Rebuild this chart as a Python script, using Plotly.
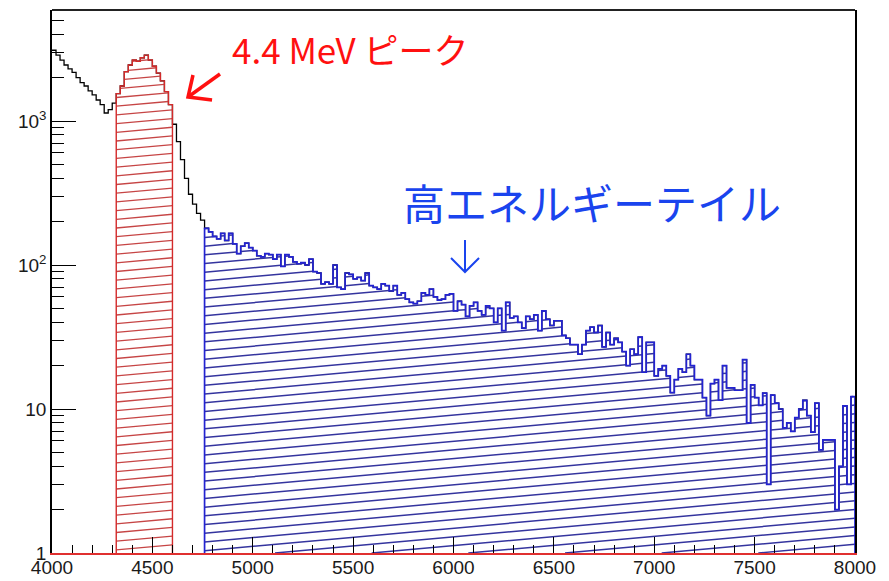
import numpy as np
import plotly.graph_objects as go

# ---- spectrum (counts per 20 keV bin) ----
BIN = 20
X_MIN, X_MAX = 4000, 8000

low_start = 4000
low_counts = [3100, 2870, 2650, 2450, 2300, 2180, 2000, 1850,
              1750, 1620, 1517, 1400, 1300, 1137, 1200, 1330]

peak_start = 4320
peak_counts = [1550, 1750, 2200, 2450, 2650, 2600, 2750, 2870,
               2650, 2400, 2150, 1900, 1600, 1300]

gap_start = 4600
gap_counts = [950, 720, 540, 400, 310, 265, 228, 205]

tail_start = 4760
tail_counts = [
    180, 170, 158, 152, 166,
    148, 166, 140, 120, 135,
    142, 132, 126, 116, 114,
    120, 118, 110, 118, 98,
    118, 114, 105, 102, 104,
    100, 110, 90, 88, 74,
    76, 74, 100, 70, 68,
    88, 86, 80, 82, 78,
    88, 72, 70, 68, 74,
    72, 66, 72, 62, 64,
    58, 55, 54, 56, 64,
    62, 68, 60, 57, 58,
    62, 63, 48, 56, 53,
    44, 52, 55, 48, 45,
    52, 50, 40, 50, 35,
    55, 43, 44, 40, 36.5,
    44, 42, 45, 35, 48,
    42, 38, 41, 41, 32.5,
    31, 28, 28, 24, 28,
    35, 37, 34, 38, 27,
    34, 28, 31, 29, 25,
    20, 26, 24, 31.6, 18,
    29, 29, 17, 19, 20,
    17, 13, 16, 19, 18,
    24, 20, 16, 16, 12,
    9, 15, 16, 11.5, 20,
    14, 14, 13.5, 13.5, 22,
    8, 14.7, 12, 10.6, 12.9,
    3, 12.5, 11, 10, 7.4,
    8, 7, 8.7, 10, 11.5,
    9, 6.9, 11, 5.2, 6.1,
    6.1, 6.1, 2, 4, 10.5,
    3, 12.2,
]

x_tick_vals = list(range(4000, 8001, 500))
y_tick_vals = [1, 10, 100, 1000]
y_tick_text = ["1", "10", "10<sup>2</sup>", "10<sup>3</sup>"]

peak_label = "4.4 MeV ピーク"
tail_label = "高エネルギーテイル"

# ---- figure geometry ----
FIG_W, FIG_H = 889, 581
M_L, M_R, M_T, M_B = 52, 34, 10, 28
PW, PH = FIG_W - M_L - M_R, FIG_H - M_T - M_B
LOG_MAX = 3.771

RED = "#d42a2a"
RED_HATCH = "#c64545"
BLUE = "#2323d2"
BLUE_HATCH = "#34349e"


def edges_of(start, counts):
    return start + BIN * np.arange(len(counts) + 1)


def step_outline(start, counts, closed=True):
    e = edges_of(start, counts)
    xs, ys = ([e[0]], [1]) if closed else ([], [])
    for i, c in enumerate(counts):
        xs += [e[i], e[i + 1]]
        ys += [c, c]
    if closed:
        xs.append(e[-1])
        ys.append(1)
    return xs, ys


def hatch_lines(start, counts, slope=0.09, spacing=8.7):
    """Slanted hatch lines (pixel-space slope) clipped to the histogram."""
    e = edges_of(start, counts)
    px = (e - X_MIN) / (X_MAX - X_MIN) * PW
    tops = np.log10(np.asarray(counts, float)) / LOG_MAX * PH
    xs, ys = [], []
    c = -slope * PW - spacing
    while c < PH:
        segs = []
        for i in range(len(counts)):
            lo = max(px[i], -c / slope)
            hi = min(px[i + 1], (tops[i] - c) / slope)
            if hi > lo:
                if segs and abs(segs[-1][1] - lo) < 1e-9:
                    segs[-1][1] = hi
                else:
                    segs.append([lo, hi])
        for lo, hi in segs:
            for p in (lo, hi):
                xs.append(X_MIN + p / PW * (X_MAX - X_MIN))
                ys.append(10 ** ((c + slope * p) / PH * LOG_MAX))
            xs.append(None)
            ys.append(None)
        c += spacing
    return xs, ys


fig = go.Figure()

# full spectrum (black line)
all_counts = low_counts + peak_counts + gap_counts + tail_counts
bx, by = step_outline(low_start, all_counts, closed=False)
fig.add_trace(go.Scatter(x=bx, y=by, mode="lines",
                         line=dict(color="black", width=1.3),
                         hoverinfo="skip", showlegend=False))

# peak region (red, hatched)
hx, hy = hatch_lines(peak_start, peak_counts)
fig.add_trace(go.Scatter(x=hx, y=hy, mode="lines",
                         line=dict(color=RED_HATCH, width=1.3),
                         hoverinfo="skip", showlegend=False))
rx, ry = step_outline(peak_start, peak_counts)
fig.add_trace(go.Scatter(x=rx, y=ry, mode="lines",
                         line=dict(color=RED, width=1.4),
                         hoverinfo="skip", showlegend=False))

# high-energy tail (blue, hatched)
hx, hy = hatch_lines(tail_start, tail_counts)
fig.add_trace(go.Scatter(x=hx, y=hy, mode="lines",
                         line=dict(color=BLUE_HATCH, width=1.5),
                         hoverinfo="skip", showlegend=False))
tx, ty = step_outline(tail_start, tail_counts)
fig.add_trace(go.Scatter(x=tx, y=ty, mode="lines",
                         line=dict(color=BLUE, width=1.7),
                         hoverinfo="skip", showlegend=False))

tick_font = dict(family="Liberation Sans, Arial, sans-serif", size=19, color="#1a1a1a")

fig.update_layout(
    width=FIG_W, height=FIG_H,
    margin=dict(l=M_L, r=M_R, t=M_T, b=M_B),
    paper_bgcolor="white", plot_bgcolor="white",
    xaxis=dict(
        range=[X_MIN, X_MAX], showgrid=False, zeroline=False, automargin=False,
        showline=True, linecolor="#e03030", linewidth=2,
        tickmode="array", tickvals=x_tick_vals,
        ticks="inside", ticklen=16, tickwidth=1.3, tickcolor="black",
        ticklabelstandoff=-4,
        minor=dict(dtick=100, ticks="inside", ticklen=8, tickwidth=1.3,
                   tickcolor="black"),
        tickfont=tick_font,
    ),
    yaxis=dict(
        type="log", range=[0, LOG_MAX], showgrid=False, zeroline=False,
        automargin=False,
        showline=True, linecolor="black", linewidth=1.5, mirror=True,
        tickmode="array", tickvals=y_tick_vals, ticktext=y_tick_text,
        ticks="inside", ticklen=24, tickwidth=1.3, tickcolor="black",
        minor=dict(tickmode="array",
                   tickvals=[m * 10 ** d for d in range(4) for m in range(2, 10)
                             if m * 10 ** d < 10 ** LOG_MAX],
                   ticks="inside", ticklen=12, tickwidth=1.3, tickcolor="black"),
        tickfont=tick_font,
    ),
)

# top frame line
fig.add_shape(type="line", xref="paper", yref="paper", x0=0, x1=1, y0=1, y1=1,
              line=dict(color="#222222", width=2))


def px_to_paper(x, y):
    return (x - M_L) / PW, (FIG_H - M_B - y) / PH


def arrow_path(points):
    pts = [px_to_paper(x, y) for x, y in points]
    return "M " + " L ".join(f"{a:.4f} {b:.4f}" for a, b in pts)


# red arrow pointing at the peak
fig.add_shape(type="path", xref="paper", yref="paper",
              path=arrow_path([(220, 74), (188, 97)]),
              line=dict(color="#ff1010", width=3.5))
fig.add_shape(type="path", xref="paper", yref="paper",
              path=arrow_path([(193, 75), (188, 97), (212, 100)]),
              line=dict(color="#ff1010", width=3.5))

# blue arrow pointing at the tail
fig.add_shape(type="path", xref="paper", yref="paper",
              path=arrow_path([(465, 240), (465, 272)]),
              line=dict(color="#1a44ee", width=2))
fig.add_shape(type="path", xref="paper", yref="paper",
              path=arrow_path([(451, 258), (465, 272), (479, 258)]),
              line=dict(color="#1a44ee", width=2))

ax, ay = px_to_paper(230, 48)
fig.add_annotation(text=peak_label, xref="paper", yref="paper", x=ax, y=ay,
                   xanchor="left", yanchor="middle", showarrow=False,
                   font=dict(family="Noto Sans CJK JP", size=35, color="#ff1010"))
ax, ay = px_to_paper(401, 201)
fig.add_annotation(text=tail_label, xref="paper", yref="paper", x=ax, y=ay,
                   xanchor="left", yanchor="middle", showarrow=False,
                   font=dict(family="Noto Sans CJK JP", size=42, color="#1a44ee"))

fig.write_html("out.html")
